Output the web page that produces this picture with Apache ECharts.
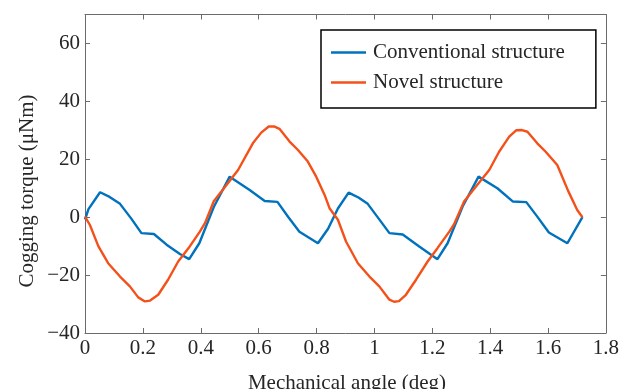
<!DOCTYPE html>
<html>
<head>
<meta charset="utf-8">
<script src="https://cdn.jsdelivr.net/npm/echarts@6/dist/echarts.min.js"></script>
<style>
  html, body { margin: 0; padding: 0; background: #fff; }
  #chart { width: 622px; height: 389px; }
</style>
</head>
<body>
<div id="chart"></div>
<script>
// Cogging torque versus mechanical angle for two motor structures
var conventionalAngle = [0, 0.012, 0.052, 0.085, 0.121, 0.16, 0.195, 0.238, 0.282, 0.328, 0.36, 0.395, 0.445, 0.5,
  0.569, 0.621, 0.665, 0.703, 0.741, 0.805, 0.84, 0.874, 0.911, 0.945, 0.977, 1.015, 1.052, 1.098, 1.155, 1.218,
  1.253, 1.305, 1.36, 1.425, 1.479, 1.525, 1.563, 1.603, 1.667, 1.719];
var conventionalTorque = [-0.8, 2.8, 8.6, 7, 4.6, -0.5, -5.5, -5.8, -9.5, -12.7, -14.5, -9, 3.5, 14,
  9.4, 5.6, 5.3, 0, -5, -9, -4, 3, 8.5, 6.8, 4.6, -0.5, -5.5, -6, -10.1, -14.5,
  -9, 3.7, 14, 10, 5.4, 5.2, 0.2, -5.3, -9, 0];

var novelAngle = [0, 0.017, 0.046, 0.08, 0.121, 0.155, 0.184, 0.207, 0.225, 0.253, 0.287, 0.322, 0.362, 0.397,
  0.415, 0.445, 0.489, 0.529, 0.58, 0.609, 0.635, 0.655, 0.672, 0.707, 0.736, 0.77, 0.799, 0.828, 0.845,
  0.874, 0.902, 0.943, 0.983, 1.017, 1.052, 1.068, 1.085, 1.109, 1.144, 1.184, 1.218, 1.259, 1.275, 1.31,
  1.351, 1.397, 1.431, 1.466, 1.49, 1.51, 1.529, 1.563, 1.592, 1.632, 1.67, 1.701, 1.719];
var novelTorque = [0.2, -2.7, -10, -15.9, -20.5, -23.9, -27.7, -29.1, -28.8, -26.8, -21.6, -15.3, -10.1, -5,
  -2, 5.5, 11.1, 16.3, 25.5, 29.2, 31.3, 31.3, 30.5, 26.1, 23.2, 19.2, 14, 7.7, 3.1,
  -0.9, -8.4, -15.9, -20.5, -23.9, -28.5, -29.2, -29, -26.8, -21.6, -15.3, -10.7, -5, -2.5, 5.4,
  10.6, 16.3, 22.6, 27.8, 30, 30.1, 29.5, 25.5, 22.6, 18, 9, 2.5, 0];

var seriesNames = ['Conventional structure', 'Novel structure'];
var xTitle = 'Mechanical angle (deg)';
var yTitle = 'Cogging torque (\u03bcNm)';

function pairs(xs, ys) {
  return xs.map(function (x, i) { return [x, ys[i]]; });
}

var FONT = '"Liberation Serif", "DejaVu Serif", serif';
var TEXT = '#262626';
var AXIS = '#6b6b6b';
var BLUE = '#0072BD';
var ORANGE = '#F4511A';

function fmtY(v) { return v < 0 ? '\u2212' + Math.abs(v) : String(v); }

var baseAxisLine = { show: true, onZero: false, lineStyle: { color: AXIS, width: 1 } };
var inTick = { show: true, inside: true, length: 5, lineStyle: { color: AXIS, width: 1 } };

var chart = echarts.init(document.getElementById('chart'), null, { renderer: 'canvas' });
chart.setOption({
  animation: false,
  backgroundColor: '#fff',
  grid: { left: 85, right: 13, top: 14.5, bottom: 56, containLabel: false },
  xAxis: [
    {
      type: 'value', min: 0, max: 1.8, interval: 0.2, position: 'bottom',
      axisLine: baseAxisLine, axisTick: inTick, splitLine: { show: false },
      axisLabel: { color: TEXT, fontFamily: FONT, fontSize: 21, margin: 5 }
    },
    {
      type: 'value', min: 0, max: 1.8, interval: 0.2, position: 'top',
      axisLine: baseAxisLine, axisTick: inTick, splitLine: { show: false },
      axisLabel: { show: false }
    }
  ],
  yAxis: [
    {
      type: 'value', min: -40, max: 70, interval: 20, position: 'left',
      axisLine: baseAxisLine, axisTick: inTick, splitLine: { show: false },
      axisLabel: { color: TEXT, fontFamily: FONT, fontSize: 21, margin: 5, showMaxLabel: false, formatter: fmtY }
    },
    {
      type: 'value', min: -40, max: 70, interval: 20, position: 'right',
      axisLine: baseAxisLine, axisTick: inTick, splitLine: { show: false },
      axisLabel: { show: false }
    }
  ],
  legend: {
    orient: 'vertical', left: 321, top: 30,
    padding: [12, 31, 15, 10],
    backgroundColor: '#fff', borderColor: '#000', borderWidth: 1.5,
    icon: 'rect', itemWidth: 35, itemHeight: 2.5, itemGap: 9,
    selectedMode: false,
    textStyle: { color: TEXT, fontFamily: FONT, fontSize: 21, lineHeight: 21, padding: [0, 0, 0, 2] },
    data: seriesNames
  },
  graphic: [
    {
      type: 'text', x: 347, y: 383,
      style: { text: xTitle, fill: TEXT, font: '21px ' + FONT, align: 'center', verticalAlign: 'middle' }
    },
    {
      type: 'text', x: 27, y: 191, rotation: Math.PI / 2,
      style: { text: yTitle, fill: TEXT, font: '21px ' + FONT, align: 'center', verticalAlign: 'middle' }
    }
  ],
  series: [
    {
      name: seriesNames[0], type: 'line', xAxisIndex: 0, yAxisIndex: 0,
      data: pairs(conventionalAngle, conventionalTorque),
      symbol: 'none', smooth: false,
      lineStyle: { color: BLUE, width: 2.4 }, itemStyle: { color: BLUE }
    },
    {
      name: seriesNames[1], type: 'line', xAxisIndex: 0, yAxisIndex: 0,
      data: pairs(novelAngle, novelTorque),
      symbol: 'none', smooth: false,
      lineStyle: { color: ORANGE, width: 2.4 }, itemStyle: { color: ORANGE }
    }
  ]
});
</script>
</body>
</html>
